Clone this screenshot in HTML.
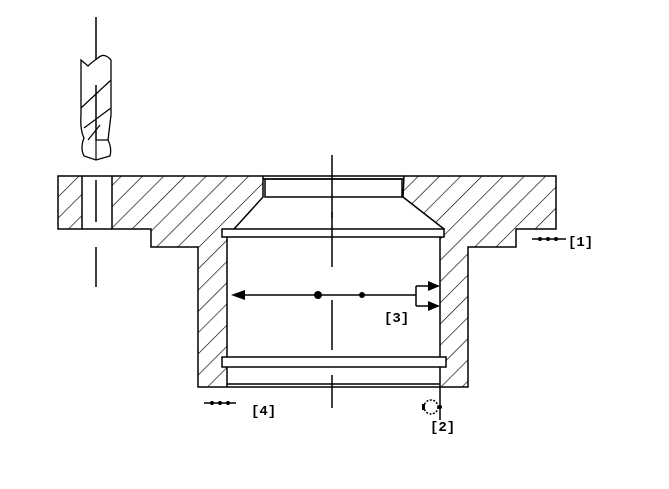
<!DOCTYPE html>
<html><head><style>html,body{margin:0;padding:0;background:#fff}svg{display:block}</style></head>
<body>
<svg width="669" height="489" viewBox="0 0 669 489" xmlns="http://www.w3.org/2000/svg">
<defs>
<pattern id="h" patternUnits="userSpaceOnUse" width="15" height="15" patternTransform="rotate(45)">
<line x1="0" y1="0" x2="0" y2="15" stroke="#000" stroke-width="1.3"/>
</pattern>
</defs>
<g stroke="#000" stroke-width="1.5" fill="url(#h)">
<polygon points="58,176 82,176 82,229 58,229"/>
<polygon points="112,176 263,176 263,197 234,229 227,237 227,387 198,387 198,247 151,247 151,229 112,229"/>
<polygon points="404,176 556,176 556,229 516,229 516,247 468,247 468,387 440,387 440,237 444,229 403,197"/>
</g>
<g stroke="#000" stroke-width="1.5" fill="none">
<line x1="82" y1="176" x2="112" y2="176"/>
<line x1="82" y1="229" x2="112" y2="229"/>
<line x1="263" y1="176" x2="404" y2="176"/>
<line x1="263" y1="179" x2="404" y2="179"/>
<rect x="265" y="179" width="137" height="18"/>
<rect x="222" y="229" width="222" height="8" fill="#fff"/>
<rect x="222" y="357" width="224" height="10" fill="#fff"/>
<line x1="227" y1="384" x2="440" y2="384"/>
<line x1="227" y1="387" x2="440" y2="387"/>
<line x1="332" y1="155" x2="332" y2="218" />
<line x1="332" y1="212" x2="332" y2="267" />
<line x1="332" y1="300" x2="332" y2="350" />
<line x1="332" y1="375" x2="332" y2="408" />
<line x1="96" y1="180" x2="96" y2="222" />
<line x1="96" y1="247" x2="96" y2="287" />
<line x1="96" y1="17" x2="96" y2="60" />
<line x1="96" y1="85" x2="96" y2="140" />
<path d="M81,60 L81,115 Q80,130 84,138 Q80,148 84,156 L96,160 L110,156 Q112,148 108,140 L111,115 L111,60 Q104,52 98,58 Q92,62 88,66 Z" stroke-width="1.3"/>
<path d="M81,108 L111,80 M84,128 L111,108 M88,140 L100,125 M96,160 L96,140 L108,140" stroke-width="1.2"/>
<line x1="235" y1="295" x2="416" y2="295"/>
<path d="M416,286 L416,306 M416,286 L430,286 M416,306 L430,306"/>
<line x1="532" y1="239" x2="566" y2="239"/>
<line x1="204" y1="403" x2="236" y2="403"/>
<line x1="440" y1="387" x2="440" y2="420"/>
<circle cx="431" cy="407" r="7" stroke-dasharray="2,1.5"/>
</g>
<g fill="#000">
<polygon points="231,295 245,290 245,300"/>
<circle cx="318" cy="295" r="4"/>
<circle cx="362" cy="295" r="3"/>
<polygon points="440,286 428,281 428,291"/>
<polygon points="440,306 428,301 428,311"/>
<circle cx="540" cy="239" r="2"/><circle cx="548" cy="239" r="2"/><circle cx="556" cy="239" r="2"/>
<circle cx="212" cy="403" r="2"/><circle cx="220" cy="403" r="2"/><circle cx="228" cy="403" r="2"/>
<rect x="422" y="404" width="3" height="6"/>
<circle cx="440" cy="407" r="2"/>
</g>
<g font-family="Liberation Mono, monospace" font-size="14" font-weight="bold" fill="#000">
<text x="568" y="246">[1]</text>
<text x="430" y="431">[2]</text>
<text x="384" y="322">[3]</text>
<text x="251" y="415">[4]</text>
</g>
</svg>
</body></html>
